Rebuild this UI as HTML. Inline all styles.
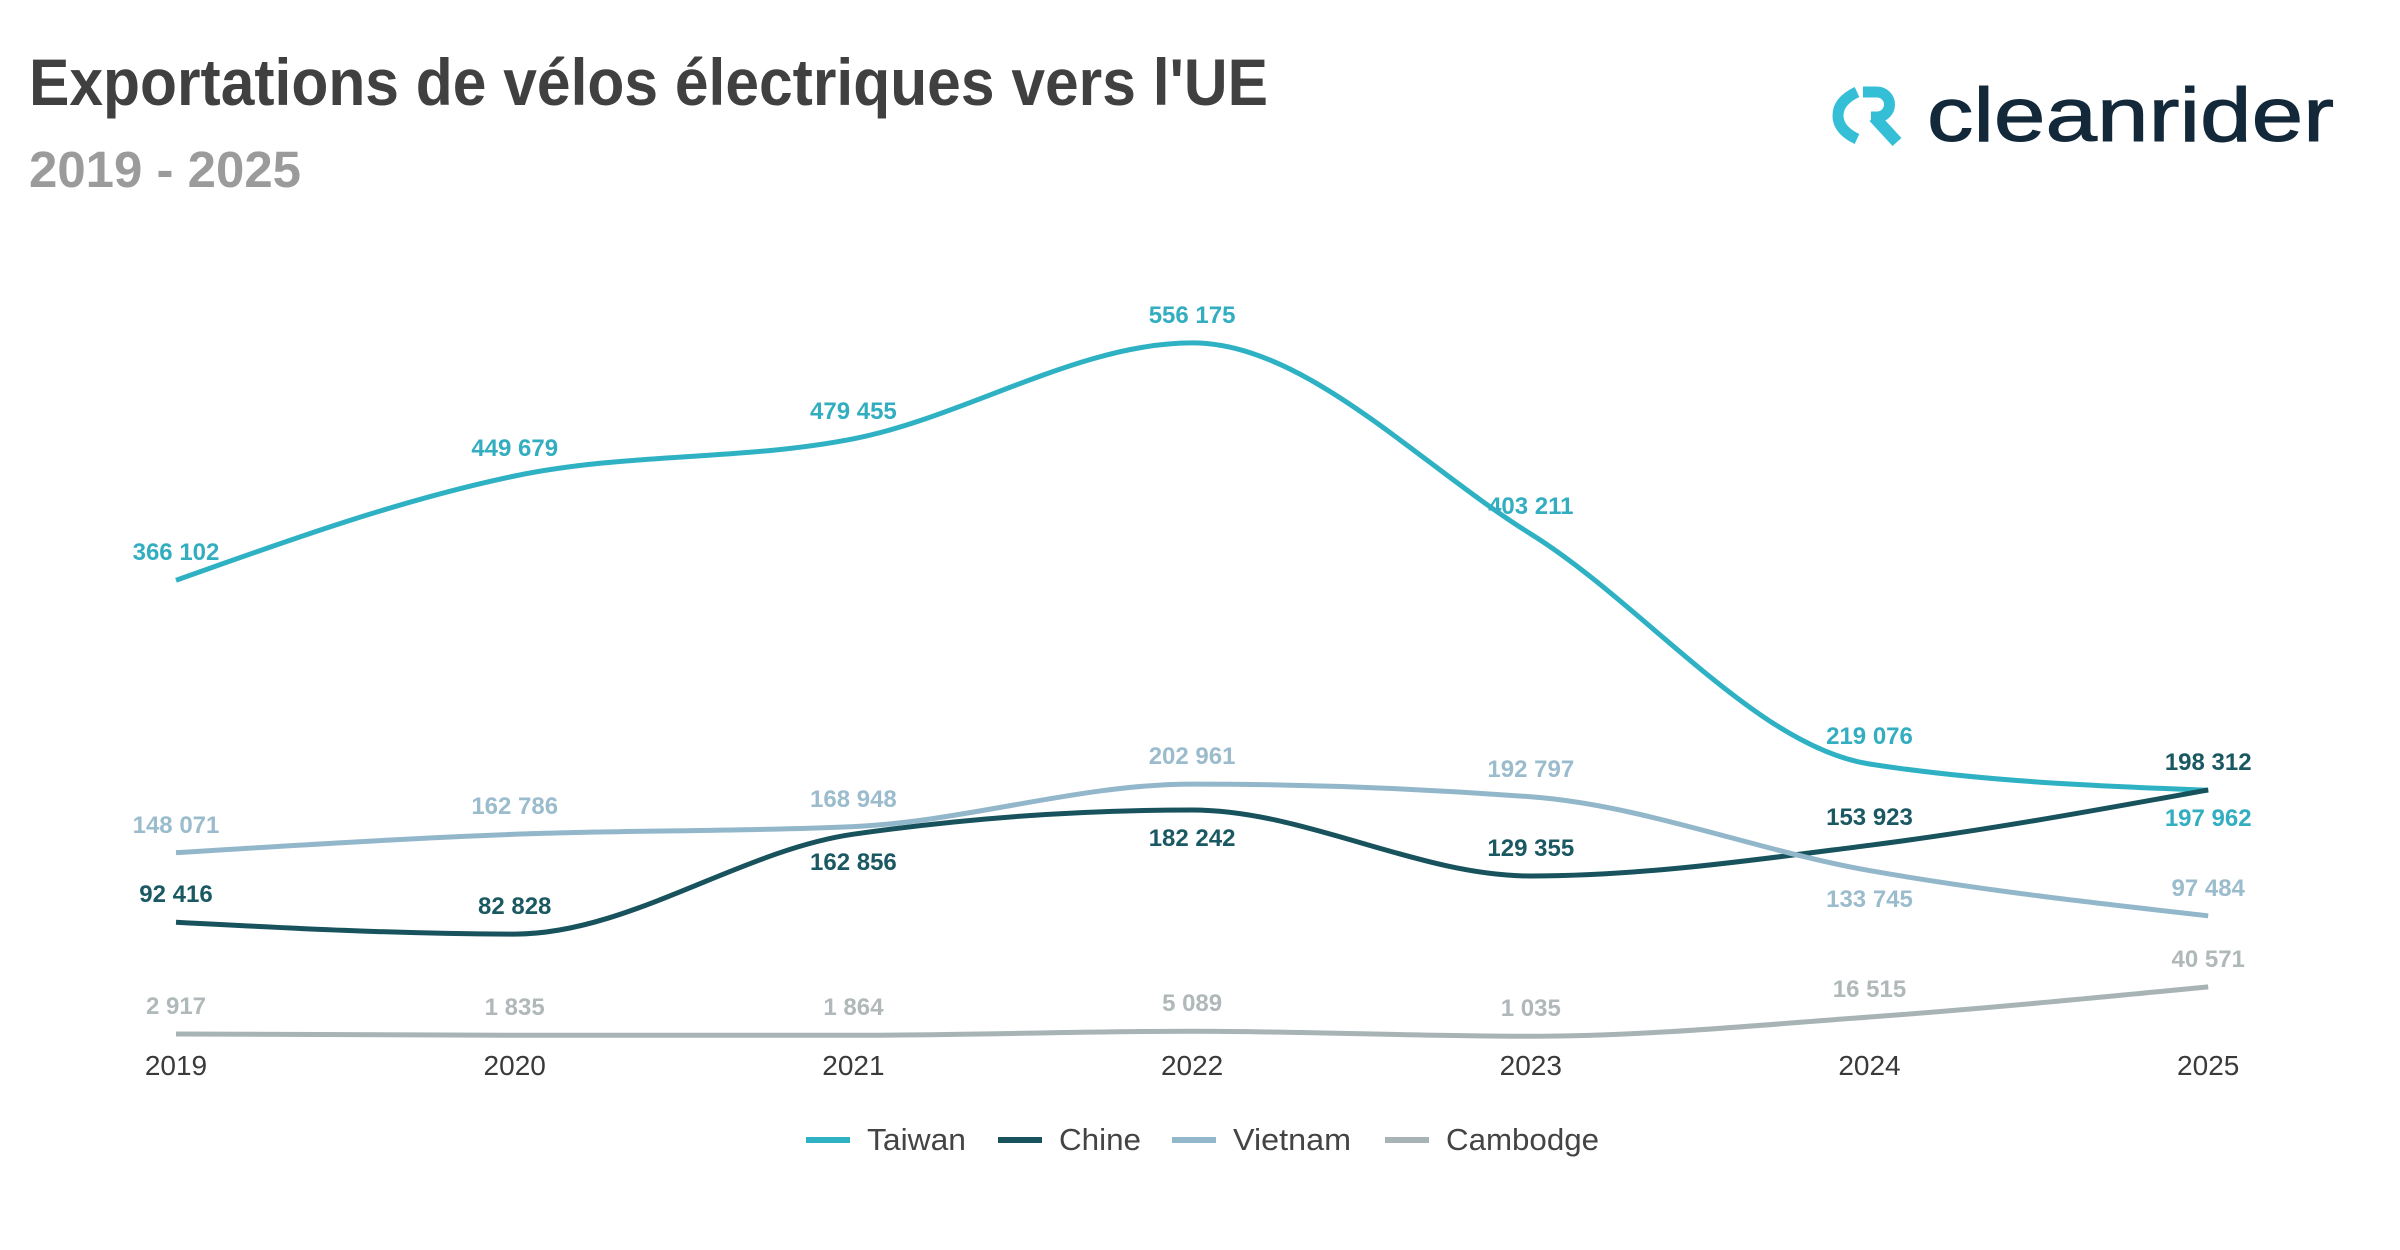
<!DOCTYPE html>
<html>
<head>
<meta charset="utf-8">
<style>
  html, body { margin:0; padding:0; background:#ffffff; }
  body { width:2400px; height:1250px; overflow:hidden; }
  svg { display:block; }
  text { font-family: "Liberation Sans", Arial, sans-serif; }
</style>
</head>
<body>
<svg width="2400" height="1250" viewBox="0 0 2400 1250" xmlns="http://www.w3.org/2000/svg">
  <rect x="0" y="0" width="2400" height="1250" fill="#ffffff"/>

  <!-- Title -->
  <text x="29" y="105" font-size="66" font-weight="bold" fill="#404040" textLength="1239" lengthAdjust="spacingAndGlyphs">Exportations de vélos électriques vers l'UE</text>
  <text x="29" y="187" font-size="51" font-weight="bold" fill="#9b9b9b" textLength="272" lengthAdjust="spacingAndGlyphs">2019 - 2025</text>

  <!-- Logo -->
  <g transform="translate(1833,87)">
    <path d="M24,5 Q5,14 5,28.5 Q5,43 24,52" fill="none" stroke="#34bfd7" stroke-width="11"/>
    <path d="M30,5 H44 A12.5,12.5 0 0 1 44,30 H38" fill="none" stroke="#34bfd7" stroke-width="11"/>
    <path d="M41,30 L64,55" fill="none" stroke="#34bfd7" stroke-width="12"/>
  </g>
  <text x="1927" y="141" font-size="76" fill="#13293a" stroke="#13293a" stroke-width="1" textLength="407" lengthAdjust="spacingAndGlyphs">cleanrider</text>

  <!-- Series lines -->
  <g fill="none" stroke-width="5" stroke-linejoin="round" stroke-linecap="butt">
    <path stroke="#2fb1c4" d="M176,580.3 C288.9,539.94 401.8,499.58 514.7,476.0 C627.6,452.42 740.5,460.98 853.4,438.8 C966.3,416.62 1079.2,342.9 1192.1,342.9 C1305.0,342.9 1417.9,463.82 1530.8,534.0 C1643.7,604.18 1756.6,746.47 1869.5,764.0 C1982.4,781.53 2095.3,785.92 2208.2,790.3"/>
    <path stroke="#17525d" d="M176,922.2 C288.9,928.15 401.8,934.1 514.7,934.1 C627.6,934.1 740.5,850.33 853.4,834.2 C966.3,818.07 1079.2,810.0 1192.1,810.0 C1305.0,810.0 1417.9,876.0 1530.8,876.0 C1643.7,876.0 1756.6,859.65 1869.5,845.3 C1982.4,830.95 2095.3,810.43 2208.2,789.9"/>
    <path stroke="#93b7ca" d="M176,852.7 C288.9,845.68 401.8,838.65 514.7,834.3 C627.6,829.95 740.5,831.73 853.4,826.6 C966.3,821.47 1079.2,784.1 1192.1,784.1 C1305.0,784.1 1417.9,788.33 1530.8,796.8 C1643.7,805.27 1756.6,850.77 1869.5,870.6 C1982.4,890.43 2095.3,903.12 2208.2,915.8"/>
    <path stroke="#a8b3b5" d="M176,1034.0 C288.9,1034.65 401.8,1035.3 514.7,1035.3 C627.6,1035.3 740.5,1035.3 853.4,1035.3 C966.3,1035.3 1079.2,1031.2 1192.1,1031.2 C1305.0,1031.2 1417.9,1036.3 1530.8,1036.3 C1643.7,1036.3 1756.6,1025.23 1869.5,1017.0 C1982.4,1008.77 2095.3,997.83 2208.2,986.9"/>
  </g>

  <!-- Data labels -->
  <g font-size="24" font-weight="bold" text-anchor="middle">
    <g fill="#33aec1">
      <text x="176" y="560">366 102</text>
      <text x="514.7" y="456">449 679</text>
      <text x="853.4" y="419">479 455</text>
      <text x="1192.1" y="323">556 175</text>
      <text x="1530.8" y="514">403 211</text>
      <text x="1869.5" y="744">219 076</text>
      <text x="2208.2" y="826">197 962</text>
    </g>
    <g fill="#1a5862">
      <text x="176" y="902">92 416</text>
      <text x="514.7" y="914">82 828</text>
      <text x="853.4" y="870">162 856</text>
      <text x="1192.1" y="846">182 242</text>
      <text x="1530.8" y="856">129 355</text>
      <text x="1869.5" y="825">153 923</text>
      <text x="2208.2" y="770">198 312</text>
    </g>
    <g fill="#9bbccd">
      <text x="176" y="833">148 071</text>
      <text x="514.7" y="814">162 786</text>
      <text x="853.4" y="807">168 948</text>
      <text x="1192.1" y="764">202 961</text>
      <text x="1530.8" y="777">192 797</text>
      <text x="1869.5" y="907">133 745</text>
      <text x="2208.2" y="896">97 484</text>
    </g>
    <g fill="#b0b8ba">
      <text x="176" y="1014">2 917</text>
      <text x="514.7" y="1015">1 835</text>
      <text x="853.4" y="1015">1 864</text>
      <text x="1192.1" y="1011">5 089</text>
      <text x="1530.8" y="1016">1 035</text>
      <text x="1869.5" y="997">16 515</text>
      <text x="2208.2" y="967">40 571</text>
    </g>
  </g>

  <!-- X axis labels -->
  <g font-size="28" fill="#3a3a3a" text-anchor="middle">
    <text x="176" y="1075">2019</text>
    <text x="514.7" y="1075">2020</text>
    <text x="853.4" y="1075">2021</text>
    <text x="1192.1" y="1075">2022</text>
    <text x="1530.8" y="1075">2023</text>
    <text x="1869.5" y="1075">2024</text>
    <text x="2208.2" y="1075">2025</text>
  </g>

  <!-- Legend -->
  <g>
    <rect x="806" y="1137" width="44" height="6" fill="#2fb1c4"/>
    <text x="867" y="1150" font-size="31" fill="#444444" textLength="99" lengthAdjust="spacingAndGlyphs">Taiwan</text>
    <rect x="998" y="1137" width="44" height="6" fill="#17525d"/>
    <text x="1059" y="1150" font-size="31" fill="#444444" textLength="82" lengthAdjust="spacingAndGlyphs">Chine</text>
    <rect x="1172" y="1137" width="44" height="6" fill="#93b7ca"/>
    <text x="1233" y="1150" font-size="31" fill="#444444" textLength="118" lengthAdjust="spacingAndGlyphs">Vietnam</text>
    <rect x="1385" y="1137" width="44" height="6" fill="#a8b3b5"/>
    <text x="1446" y="1150" font-size="31" fill="#444444" textLength="153" lengthAdjust="spacingAndGlyphs">Cambodge</text>
  </g>
</svg>
</body>
</html>
